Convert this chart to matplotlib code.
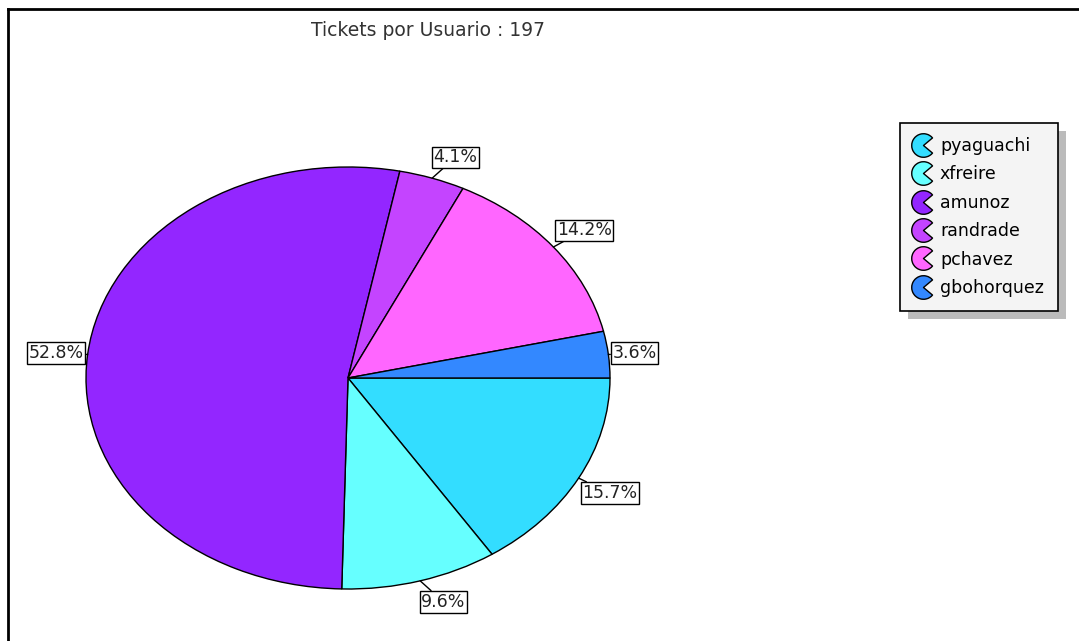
import numpy as np
import matplotlib
matplotlib.use("Agg")
import matplotlib.pyplot as plt
from matplotlib.path import Path
from matplotlib.lines import Line2D
from matplotlib.patches import Rectangle

# Data
users = ["pyaguachi", "xfreire", "amunoz", "randrade", "pchavez", "gbohorquez"]
tickets = [31, 19, 104, 8, 28, 7]
colors = ["#33DDFF", "#66FFFF", "#9326FF", "#C444FF", "#FF66FF", "#3388FF"]
title = "Tickets por Usuario : %d" % sum(tickets)

W, H = 1079, 641
fig = plt.figure(figsize=(W / 100, H / 100), dpi=100)

# pie axes (stretched ellipse like the screenshot)
ax = fig.add_axes([86 / W, 1 - 589 / H, 524 / W, 422 / H])
wedges, _ = ax.pie(tickets, colors=colors, startangle=0, counterclock=False,
                   wedgeprops=dict(edgecolor="black", linewidth=1))
ax.set_aspect("auto")
ax.set_xlim(-1, 1)
ax.set_ylim(-1, 1)
ax.axis("off")

# percentage labels in boxes with short link lines
total = float(sum(tickets))
start = 0.0
for val in tickets:
    frac = val / total
    mid = np.deg2rad(-(start + frac / 2) * 360)
    start += frac
    c, s = np.cos(mid), np.sin(mid)
    ha = "left" if c > 0.15 else ("right" if c < -0.15 else "center")
    va = "bottom" if s > 0.4 else ("top" if s < -0.4 else "center")
    ax.annotate("%.1f%%" % (frac * 100), xy=(c, s), xycoords="data",
                xytext=(c * 3, s * 9), textcoords="offset points",
                ha=ha, va=va, fontsize=12.5, color="#222222",
                bbox=dict(boxstyle="square,pad=0.1", fc="white", ec="black", lw=1),
                arrowprops=dict(arrowstyle="-", color="black", lw=1,
                                shrinkA=0, shrinkB=0),
                annotation_clip=False)

fig.text(428 / W, 1 - 31 / H, title, ha="center", va="center",
         fontsize=13.5, color="#333333")

# legend with pac-man markers
pac = Path.wedge(40, 320)
handles = [Line2D([], [], marker=pac, linestyle="none", markersize=17,
                  markerfacecolor=col, markeredgecolor="black", markeredgewidth=1)
           for col in colors]
leg = fig.legend(handles, users, loc="upper left",
                 bbox_to_anchor=(900 / W, 1 - 123 / H),
                 frameon=True, fancybox=False, edgecolor="black",
                 facecolor="#F4F4F4", framealpha=1, fontsize=12.5,
                 handlelength=1.0, handletextpad=0.5, labelspacing=0.6,
                 borderpad=0.8, borderaxespad=0)
leg.get_frame().set_linewidth(1.2)

# shadow behind the legend
fig.canvas.draw()
bb = leg.get_window_extent()
fig.patches.append(Rectangle((bb.x0 + 8, bb.y0 - 8), bb.width, bb.height,
                             transform=None, facecolor="#BBBBBB",
                             edgecolor="none", zorder=0))

# frame lines at top and left
fig.add_artist(Line2D([8 / W, 1], [1 - 9 / H, 1 - 9 / H], color="black", lw=2))
fig.add_artist(Line2D([8 / W, 8 / W], [0, 1 - 9 / H], color="black", lw=2))

fig.savefig("out.png", dpi=100)
